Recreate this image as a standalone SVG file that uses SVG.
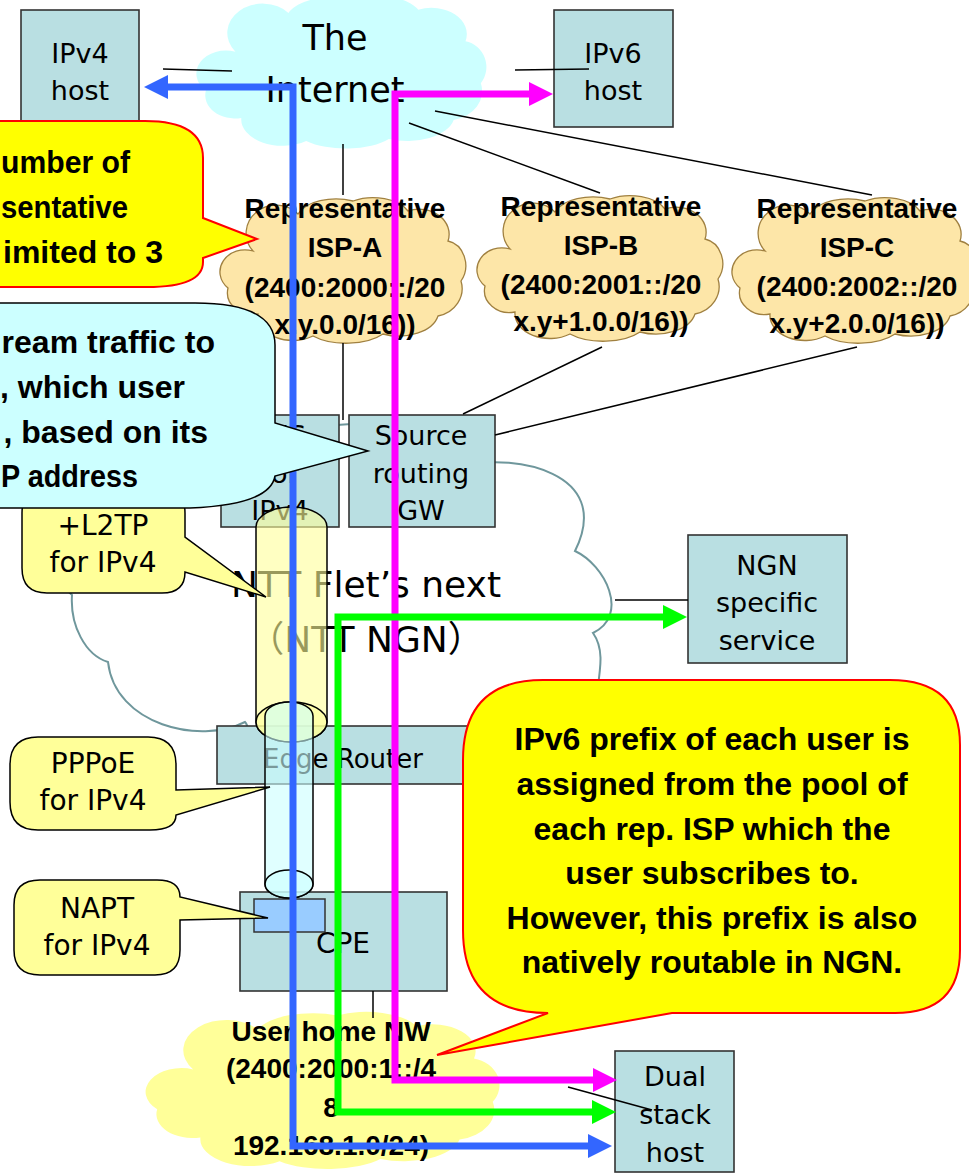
<svg xmlns="http://www.w3.org/2000/svg" xmlns:xlink="http://www.w3.org/1999/xlink" width="969" height="1175" viewBox="0 0 969 1175">
<style>
.box{fill:#b9dfe2;stroke:#333;stroke-width:1.6}
.t{font-family:"DejaVu Sans","Noto Sans CJK JP",sans-serif;font-size:27px;text-anchor:middle;fill:#000}
.b{font-family:"Liberation Sans",Arial,sans-serif;font-weight:bold;font-size:28px;text-anchor:middle;fill:#000}
.cb{font-family:"Liberation Sans",Arial,sans-serif;font-weight:bold;font-size:32px;fill:#000}
.ln{stroke:#000;stroke-width:1.5;fill:none}
.isp{fill:#fde6a8;stroke:#a08040;stroke-width:1.3}
.co{fill:#ffff99;stroke:#000;stroke-width:1.5}
</style>
<defs>
<path id="cloudP" d="M30,55 A30,28 0 0 1 75,18 A40,22 0 0 1 130,5 A38,22 0 0 1 185,15 A30,25 0 0 1 225,45 A22,25 0 0 1 238,85 A30,28 0 0 1 215,120 A40,25 0 0 1 160,138 A45,22 0 0 1 90,140 A35,25 0 0 1 35,118 A25,22 0 0 1 5,92 A25,22 0 0 1 30,55 Z"/>
</defs>

<g id="internet">
<use xlink:href="#cloudP" href="#cloudP" transform="translate(200,-6) scale(1.18,1.05)" fill="#ccffff"/>
<text class="t" x="335" y="50" style="font-size:35px">The</text>
<text class="t" x="335" y="102" style="font-size:35px">Internet</text>
</g>

<g id="isp-a">
<use xlink:href="#cloudP" href="#cloudP" class="isp" transform="translate(223,196)"/>
<text class="b" x="345" y="218">Representative</text>
<text class="b" x="345" y="257">ISP-A</text>
<text class="b" x="345" y="297">(2400:2000::/20</text>
<text class="b" x="345" y="334">x.y.0.0/16))</text>
</g>
<g id="isp-b">
<use xlink:href="#cloudP" href="#cloudP" class="isp" transform="translate(480,194)"/>
<text class="b" x="601" y="216">Representative</text>
<text class="b" x="601" y="255">ISP-B</text>
<text class="b" x="601" y="294">(2400:2001::/20</text>
<text class="b" x="601" y="331">x.y+1.0.0/16))</text>
</g>
<g id="isp-c">
<use xlink:href="#cloudP" href="#cloudP" class="isp" transform="translate(735,196)"/>
<text class="b" x="857" y="218">Representative</text>
<text class="b" x="857" y="257">ISP-C</text>
<text class="b" x="857" y="296">(2400:2002::/20</text>
<text class="b" x="857" y="333">x.y+2.0.0/16))</text>
</g>

<g id="ntt-ngn">
<path d="M72,595 C40,570 60,500 120,500 C130,440 250,420 300,445 C320,425 345,420 370,428 C400,430 440,440 470,465 C510,455 615,470 575,551 C605,565 630,615 593,633 C605,650 600,670 596,700 C590,760 520,775 470,765 C420,790 300,790 250,735 C248,730 248,725 245,722 C200,745 115,725 108,662 C85,655 70,625 72,595 Z" fill="#fff" stroke="#6f979c" stroke-width="2"/>
<text class="t" x="366" y="597" style="font-size:36px">NTT Flet’s next</text>
<text class="t" x="366" y="652" style="font-size:36px">（NTT NGN）</text>
</g>

<g id="home-nw">
<use xlink:href="#cloudP" href="#cloudP" transform="translate(150,1010) scale(1.44,1.08)" fill="#ffff99"/>
<text class="b" x="331" y="1041">User home NW</text>
<text class="b" x="331" y="1078">(2400:2000:1::/4</text>
<text class="b" x="331" y="1117">8</text>
<text class="b" x="331" y="1155">192.168.1.0/24)</text>
</g>

<g id="ipv4-host">
<rect class="box" x="21" y="10" width="118" height="122"/>
<text class="t" x="80" y="63">IPv4</text>
<text class="t" x="80" y="100">host</text>
</g>
<g id="ipv6-host">
<rect class="box" x="554" y="10" width="119" height="117"/>
<text class="t" x="613" y="63">IPv6</text>
<text class="t" x="613" y="100">host</text>
</g>
<g id="lns">
<rect class="box" x="221" y="415" width="118" height="112"/>
<text class="t" x="280" y="445">LNS</text>
<text class="t" x="280" y="483">for</text>
<text class="t" x="280" y="520">IPv4</text>
</g>
<g id="source-gw">
<rect class="box" x="349" y="415" width="146" height="112"/>
<text class="t" x="421" y="445">Source</text>
<text class="t" x="421" y="483">routing</text>
<text class="t" x="421" y="520">GW</text>
</g>
<g id="ngn-service">
<rect class="box" x="688" y="535" width="159" height="128"/>
<text class="t" x="767" y="575">NGN</text>
<text class="t" x="767" y="612">specific</text>
<text class="t" x="767" y="650">service</text>
</g>
<g id="edge-router">
<rect class="box" x="217" y="726" width="303" height="58"/>
<text class="t" x="343" y="768" style="font-size:26px">Edge Router</text>
</g>
<g id="cpe">
<rect class="box" x="240" y="892" width="207" height="99"/>
<rect x="254" y="899" width="71" height="33" fill="#99ccff" stroke="#333" stroke-width="1.5"/>
<text class="t" x="343" y="953" style="font-size:28px">CPE</text>
</g>
<g id="dual-stack">
<rect class="box" x="615" y="1051" width="119" height="121"/>
<text class="t" x="675" y="1086">Dual</text>
<text class="t" x="675" y="1124">stack</text>
<text class="t" x="675" y="1162">host</text>
</g>

<g id="tunnels" stroke="#000" stroke-width="1.5">
<g fill="#ffff99" fill-opacity="0.6">
<path d="M256,527 A35.5,20 0 0 1 327,527 L327,722 A35.5,20 0 0 1 256,722 Z"/>
<ellipse cx="291.5" cy="722" rx="35.5" ry="20"/>
</g>
<g fill="#ccffff" fill-opacity="0.6">
<path d="M265,716 A24,14 0 0 1 313,716 L313,884 A24,14 0 0 1 265,884 Z"/>
<ellipse cx="289" cy="884" rx="24" ry="14"/>
</g>
</g>

<g id="connectors" class="ln">
<line x1="163" y1="69" x2="232" y2="71"/>
<line x1="515" y1="70" x2="589" y2="69"/>
<line x1="343" y1="144" x2="343" y2="195"/>
<line x1="409" y1="123" x2="600" y2="193"/>
<line x1="435" y1="111" x2="872" y2="195"/>
<line x1="343" y1="343" x2="343" y2="420"/>
<line x1="602" y1="347" x2="463" y2="414"/>
<line x1="857" y1="347" x2="495" y2="435"/>
<line x1="615" y1="600" x2="688" y2="600"/>
<line x1="373" y1="991" x2="373" y2="1018"/>
<line x1="568" y1="1087" x2="652" y2="1110"/>
</g>

<g id="arrows" fill="none" stroke-width="7" stroke-linejoin="miter">
<path d="M167,87 L293,87 L293,1146 L589,1146" stroke="#3366ff"/>
<polygon points="144,87 168,75 168,99" fill="#3366ff"/>
<polygon points="612,1146 588,1134 588,1158" fill="#3366ff"/>
<path d="M529,94 L395,94 L395,1080 L594,1080" stroke="#ff00ff"/>
<polygon points="553,94 529,82 529,106" fill="#ff00ff"/>
<polygon points="617,1080 593,1068 593,1092" fill="#ff00ff"/>
<path d="M664,617 L338,617 L338,1112 L593,1112" stroke="#00ff00"/>
<polygon points="687,617 663,605 663,629" fill="#00ff00"/>
<polygon points="616,1112 592,1100 592,1124" fill="#00ff00"/>
</g>

<g id="callout-isp-limit">
<path d="M-30,121 L145,121 Q203,121 203,158 L203,218 L257,239 L203,258 L203,262 Q203,287 147,287 L-30,287 Z" fill="#ffff00" stroke="#ff0000" stroke-width="2"/>
<text class="cb" x="1" y="173" textLength="129" lengthAdjust="spacingAndGlyphs">umber of</text>
<text class="cb" x="1" y="218" textLength="127" lengthAdjust="spacingAndGlyphs">sentative</text>
<text class="cb" x="163" y="263" text-anchor="end">imited to 3</text>
</g>
<g id="callout-l2tp">
<path class="co" d="M47,488 L160,488 Q185,488 185,513 L185,537 L266,597 L185,572 Q185,593 162,593 L47,593 Q22,593 22,568 L22,513 Q22,488 47,488 Z"/>
<text class="t" x="103" y="535" style="font-size:28px">+L2TP</text>
<text class="t" x="103" y="572" style="font-size:28px">for IPv4</text>
</g>
<g id="callout-routing">
<path d="M-30,303 L195,303 Q275,303 275,345 L275,423 L368,451 L275,476 Q270,505 190,508 L-30,508 Z" fill="#ccffff" stroke="#000" stroke-width="1.5"/>
<text class="cb" x="215" y="353" text-anchor="end">ream traffic to</text>
<text class="cb" x="185" y="398" text-anchor="end">, which user</text>
<text class="cb" x="208" y="443" text-anchor="end">, based on its</text>
<text class="cb" x="1" y="487" textLength="137" lengthAdjust="spacingAndGlyphs">P address</text>
</g>
<g id="callout-pppoe">
<path class="co" d="M38,737 L148,737 Q176,737 176,765 L176,790 L270,787 L176,815 Q176,830 150,830 L38,830 Q10,830 10,802 L10,765 Q10,737 38,737 Z"/>
<text class="t" x="93" y="773" style="font-size:28px">PPPoE</text>
<text class="t" x="93" y="810" style="font-size:28px">for IPv4</text>
</g>
<g id="callout-napt">
<path class="co" d="M40,880 L157,880 Q180,880 180,897 L268,918 L180,920 L180,950 Q180,975 155,975 L40,975 Q14,975 14,950 L14,905 Q14,880 40,880 Z"/>
<text class="t" x="97" y="918" style="font-size:28px">NAPT</text>
<text class="t" x="97" y="955" style="font-size:28px">for IPv4</text>
</g>
<g id="callout-prefix">
<path d="M543,680 L890,680 Q960,680 960,745 L960,950 Q960,1013 895,1013 L672,1013 L437,1055 L548,1013 Q463,1013 463,930 L463,760 Q463,680 543,680 Z" fill="#ffff00" stroke="#ff0000" stroke-width="2"/>
<g class="cb" text-anchor="middle">
<text x="712" y="750">IPv6 prefix of each user is</text>
<text x="712" y="795">assigned from the pool of</text>
<text x="712" y="840">each rep. ISP which the</text>
<text x="712" y="884">user subscribes to.</text>
<text x="712" y="929">However, this prefix is also</text>
<text x="712" y="973">natively routable in NGN.</text>
</g>
</g>
</svg>
